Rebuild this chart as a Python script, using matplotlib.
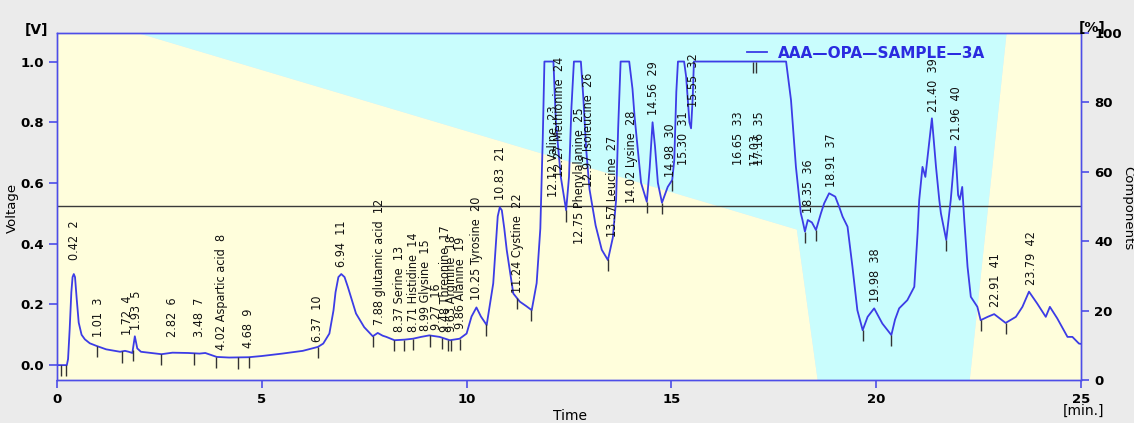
import numpy as np
import matplotlib
matplotlib.use("Agg")
import matplotlib.pyplot as plt
from matplotlib import font_manager

# detector trace: retention time [min] and signal [V]
trace_time = [
    0.00, 0.24, 0.27, 0.31, 0.35, 0.38, 0.41, 0.44, 0.48, 0.53, 0.60, 0.68, 0.80, 0.97, 1.20,
    1.54, 1.66, 1.75, 1.84, 1.90, 1.96, 2.05, 2.55, 2.82, 3.20, 3.48, 3.62, 3.90, 4.20, 4.68,
    5.00, 5.50, 6.00, 6.37, 6.50, 6.65, 6.75, 6.80, 6.87, 6.94, 7.02, 7.10, 7.30, 7.50, 7.71,
    7.83, 7.95, 8.04, 8.24, 8.49, 8.69, 8.89, 9.09, 9.34, 9.59, 9.83, 10.00, 10.12, 10.24,
    10.35, 10.49, 10.65, 10.71, 10.76, 10.81, 10.86, 10.92, 10.98, 11.14, 11.30, 11.45, 11.59,
    11.71, 11.80, 11.86, 11.90, 12.12, 12.18, 12.30, 12.43, 12.50, 12.56, 12.62, 12.79, 12.85,
    12.92, 13.00, 13.15, 13.30, 13.45, 13.57, 13.65, 13.70, 13.76, 13.97, 14.05, 14.10, 14.26,
    14.40, 14.47, 14.54, 14.60, 14.67, 14.77, 14.91, 15.02, 15.07, 15.12, 15.16, 15.31, 15.36,
    15.44, 15.48, 15.52, 15.55, 17.80, 17.92, 18.04, 18.16, 18.20, 18.26, 18.33, 18.43, 18.53,
    18.65, 18.73, 18.85, 19.00, 19.10, 19.18, 19.30, 19.42, 19.54, 19.67, 19.79, 19.95, 20.15,
    20.37, 20.46, 20.56, 20.76, 20.93, 21.01, 21.05, 21.13, 21.20, 21.30, 21.36, 21.46, 21.54,
    21.58, 21.71, 21.82, 21.93, 22.00, 22.04, 22.10, 22.15, 22.23, 22.31, 22.47, 22.55, 22.72,
    22.88, 23.16, 23.41, 23.57, 23.73, 23.93, 24.14, 24.24, 24.42, 24.67, 24.79, 24.95, 25.00,
]
trace_volt = [
    0.000, 0.000, 0.020, 0.120, 0.240, 0.290, 0.300, 0.290, 0.220, 0.140, 0.100, 0.085, 0.072, 0.063, 0.052,
    0.044, 0.047, 0.044, 0.040, 0.095, 0.055, 0.044, 0.036, 0.041, 0.040, 0.038, 0.040, 0.027, 0.025, 0.026,
    0.030, 0.038, 0.047, 0.060, 0.071, 0.104, 0.180, 0.240, 0.290, 0.300, 0.290, 0.258, 0.170, 0.125, 0.095,
    0.106, 0.097, 0.093, 0.082, 0.084, 0.087, 0.093, 0.098, 0.093, 0.082, 0.087, 0.104, 0.160, 0.190,
    0.160, 0.132, 0.269, 0.390, 0.490, 0.520, 0.510, 0.450, 0.379, 0.236, 0.209, 0.195, 0.181,
    0.270, 0.450, 0.750, 1.000, 1.000, 0.800, 0.620, 0.510, 0.620, 0.850, 1.000, 1.000, 0.880,
    0.710, 0.580, 0.460, 0.380, 0.346, 0.420, 0.544, 0.780, 1.000, 1.000, 0.910, 0.820, 0.600,
    0.538, 0.650, 0.800, 0.720, 0.600, 0.535, 0.587, 0.610, 0.675, 0.900, 1.000, 1.000, 0.950,
    0.800, 0.780, 0.880, 1.000, 1.000, 0.873, 0.653, 0.500, 0.478, 0.440, 0.478, 0.470, 0.445,
    0.500, 0.533, 0.566, 0.555, 0.520, 0.489, 0.456, 0.324, 0.181, 0.115, 0.159, 0.187, 0.137,
    0.099, 0.150, 0.187, 0.214, 0.258, 0.434, 0.544, 0.653, 0.620, 0.741, 0.813, 0.653, 0.544,
    0.500, 0.412, 0.544, 0.719, 0.560, 0.545, 0.587, 0.478, 0.324, 0.225, 0.192, 0.148, 0.159,
    0.168, 0.139, 0.159, 0.192, 0.242, 0.203, 0.159, 0.192, 0.154, 0.093, 0.093, 0.071, 0.070,
]

# eluent gradient program [%]
grad_time = [0.0, 2.0, 18.05, 18.56, 22.27, 23.17, 25.0]
grad_pct = [100, 100, 43.5, 0, 0, 100, 100]

# integration boundary markers [min]
marker_time = [
    0.10, 0.22, 0.97, 1.58, 1.85, 2.55, 3.35, 3.89, 4.42, 4.69, 6.36, 7.72, 8.22, 8.48, 8.68,
    9.11, 9.40, 9.54, 9.62, 9.83, 10.48, 11.23, 11.58, 12.43, 13.44, 14.40, 14.77, 15.02,
    16.98, 17.06, 18.26, 18.53, 19.67, 20.37, 21.71, 22.55, 23.17,
]

# peak labels: time, text, baseline of the label [V]
peak_time = [
    0.42, 1.01, 1.72, 1.93, 2.82, 3.48, 4.02, 4.68, 6.37, 6.94, 7.88, 8.37, 8.71, 8.99, 9.27,
    9.48, 9.63, 9.86, 10.25, 10.83, 11.24, 12.12, 12.27, 12.75, 12.97, 13.57, 14.02, 14.56,
    14.98, 15.30, 15.55, 16.65, 17.03, 17.16, 18.35, 18.91, 19.98, 21.40, 21.96, 22.91, 23.79,
]
peak_text = [
    "0.42  2", "1.01  3", "1.72  4", "1.93  5", "2.82  6", "3.48  7", "4.02 Aspartic acid  8",
    "4.68  9", "6.37  10", "6.94  11", "7.88 glutamic acid  12", "8.37 Serine  13",
    "8.71 Histidine  14", "8.99 Glysine  15", "9.27  16", "9.48 Threonine  17",
    "9.63 Arginine  18", "9.86 Alanine  19", "10.25 Tyrosine  20", "10.83  21",
    "11.24 Cystine  22", "12.12 Valine  23", "12.27 Methionine  24", "12.75 Phenylalanine  25",
    "12.97 Isoleucine  26", "13.57 Leucine  27", "14.02 Lysine  28", "14.56  29", "14.98  30",
    "15.30  31", "15.55  32", "16.65  33", "17.03", "17.16  35", "18.35  36", "18.91  37",
    "19.98  38", "21.40  39", "21.96  40", "22.91  41", "23.79  42",
]
peak_label_v = [
    0.346, 0.093, 0.099, 0.115, 0.093, 0.093, 0.049, 0.056, 0.077, 0.324, 0.132, 0.110,
    0.110, 0.112, 0.115, 0.110, 0.110, 0.120, 0.214, 0.544, 0.236, 0.555, 0.620, 0.400,
    0.587, 0.423, 0.534, 0.824, 0.620, 0.659, 0.851, 0.659, 0.659, 0.659, 0.500, 0.587,
    0.209, 0.835, 0.741, 0.192, 0.264,
]

AXIS_BLUE = "#4d4de8"
TRACE_BLUE = "#3c3ce6"


def label_font():
    # narrow face for the crowded peak annotations, if one is around
    fonts = font_manager.fontManager.ttflist
    names = {f.name for f in fonts}
    if "Liberation Sans Narrow" in names:
        return {"family": "Liberation Sans Narrow", "fontsize": 9.5}
    if any(f.name == "DejaVu Sans" and f.stretch == "condensed" for f in fonts):
        return {"family": "DejaVu Sans", "fontstretch": "condensed", "fontsize": 9}
    return {"family": "DejaVu Sans", "fontsize": 8.3}


def draw_background(ax2):
    ax2.fill_between(grad_time, 0, grad_pct, color="#fffedc", lw=0)
    ax2.fill_between(grad_time, grad_pct, 100, color="#c9fdfd", lw=0)
    ax2.axhline(50, color="#3a3a3a", lw=1.0)
    ax2.set_ylim(0, 100)
    ax2.set_yticks(range(0, 101, 20))


def style_axes(ax, ax2):
    for a in (ax, ax2):
        for side in a.spines:
            a.spines[side].set_color(AXIS_BLUE)
            a.spines[side].set_linewidth(1.0)
        a.tick_params(colors=AXIS_BLUE, labelcolor="black", length=6, width=1.2)
    for lab in ax.get_yticklabels() + ax2.get_yticklabels() + ax.get_xticklabels():
        lab.set_fontweight("bold")
        lab.set_fontsize(9.5)


def main():
    fig = plt.figure(figsize=(11.34, 4.23), dpi=100, facecolor="#ebebeb")
    ax = fig.add_axes([57 / 1134, 43 / 423, 1024 / 1134, 347 / 423])
    ax2 = ax.twinx()
    draw_background(ax2)
    ax.set_zorder(ax2.get_zorder() + 1)
    ax.patch.set_visible(False)

    ax.plot(trace_time, trace_volt, color=TRACE_BLUE, lw=1.3)

    t = np.array(trace_time)
    v = np.array(trace_volt)
    mv = np.interp(marker_time, t, v)
    ax.vlines(marker_time, mv - 0.037, mv, color="#333333", lw=1.0)

    lf = label_font()
    for pt, txt, pv in zip(peak_time, peak_text, peak_label_v):
        ax.text(pt, pv, txt, rotation=90, ha="center", va="bottom",
                color="#111111", **lf)

    ax.set_xlim(0, 25)
    ax.set_ylim(-0.049, 1.094)
    ax.set_xticks(range(0, 26, 5))
    ax.set_yticks([0.0, 0.2, 0.4, 0.6, 0.8, 1.0])
    ax.yaxis.set_major_formatter(matplotlib.ticker.FormatStrFormatter("%.1f"))
    style_axes(ax, ax2)

    # legend entry
    ax.plot([16.85, 17.34], [1.031, 1.031], color=TRACE_BLUE, lw=1.3)
    ax.text(17.61, 1.025, "AAA\u2014OPA\u2014SAMPLE\u20143A", color="#2b2be0",
            fontsize=11, fontweight="bold", va="center", ha="left")

    fig.text(37 / 1134, 1 - 30 / 423, "[V]", fontsize=10, fontweight="bold",
             ha="center", va="center")
    fig.text(1092 / 1134, 1 - 28 / 423, "[%]", fontsize=10, fontweight="bold",
             ha="center", va="center")
    fig.text(12 / 1134, 1 - 208 / 423, "Voltage", rotation=90, fontsize=9.5,
             ha="center", va="center")
    fig.text(1128 / 1134, 1 - 208 / 423, "Components", rotation=270, fontsize=9.5,
             ha="center", va="center")
    fig.text(570 / 1134, 1 - 416 / 423, "Time", fontsize=10, ha="center", va="center")
    fig.text(1083 / 1134, 1 - 411 / 423, "[min.]", fontsize=10, ha="center", va="center")

    fig.savefig("out.png", dpi=100, facecolor=fig.get_facecolor())
    plt.close(fig)


if __name__ == "__main__":
    main()
